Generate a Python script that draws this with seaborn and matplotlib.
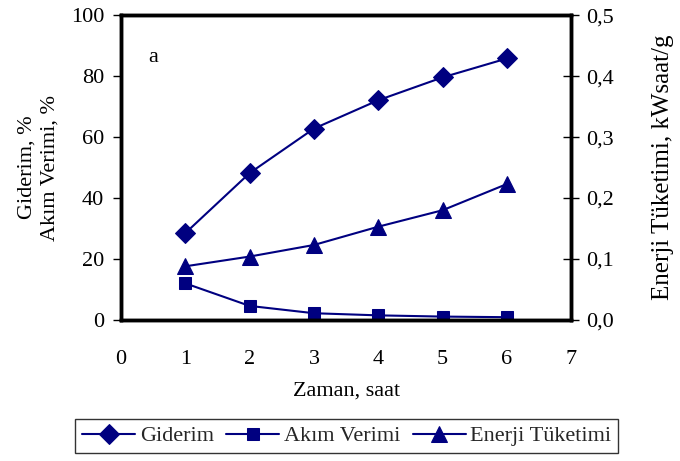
import matplotlib
matplotlib.use("Agg")
import matplotlib.pyplot as plt
from matplotlib.ticker import FuncFormatter
import seaborn as sns
import pandas as pd

# Electro-oxidation results over time
zaman = [1, 2, 3, 4, 5, 6]
giderim = [28.5, 48.2, 62.8, 72.1, 79.6, 85.8]
akim_verimi = [12.0, 4.6, 2.2, 1.5, 1.1, 0.9]
enerji_tuketimi = [0.088, 0.104, 0.123, 0.153, 0.180, 0.223]

x_ticks = [0, 1, 2, 3, 4, 5, 6, 7]
y_left_ticks = [0, 20, 40, 60, 80, 100]
y_right_ticks = [0.0, 0.1, 0.2, 0.3, 0.4, 0.5]

sns.set_theme(style="white")
plt.rcParams["font.family"] = ["Liberation Serif", "DejaVu Serif"]

navy = "#000080"
df = pd.DataFrame({"zaman": zaman, "giderim": giderim,
                   "akim": akim_verimi, "enerji": enerji_tuketimi})

fig = plt.figure(figsize=(6.8, 4.61), dpi=100)
ax = fig.add_axes([0.178, 0.306, 0.662, 0.661])
ax2 = ax.twinx()

sns.lineplot(data=df, x="zaman", y="giderim", ax=ax, color=navy, marker="D",
             markersize=10.5, markeredgecolor=navy, linewidth=1.5,
             label="Giderim", legend=False)
sns.lineplot(data=df, x="zaman", y="akim", ax=ax, color=navy, marker="s",
             markersize=8, markeredgecolor=navy, linewidth=1.5,
             label="Akım Verimi", legend=False)
sns.lineplot(data=df, x="zaman", y="enerji", ax=ax2, color=navy, marker="^",
             markersize=12, markeredgecolor=navy, linewidth=1.5,
             label="Enerji Tüketimi", legend=False)

ax.set_xlim(0, 7)
ax.set_ylim(0, 100)
ax2.set_ylim(0, 0.5)
ax.set_xticks(x_ticks)
ax.set_yticks(y_left_ticks)
ax2.set_yticks(y_right_ticks)
ax2.yaxis.set_major_formatter(FuncFormatter(lambda v, p: f"{v:.1f}".replace(".", ",")))

for a in (ax, ax2):
    for s in a.spines.values():
        s.set_color("black")
        s.set_linewidth(2.5)
    a.grid(False)

ax.tick_params(axis="y", direction="out", length=6, width=1, labelsize=16,
               colors="black", pad=6)
ax.tick_params(axis="x", direction="out", length=5, width=1, labelsize=16,
               colors="black", pad=17)
ax2.tick_params(axis="y", direction="inout", length=12, width=1, labelsize=16,
                colors="black", pad=4.5)

ax.set_xlabel("Zaman, saat", fontsize=16, color="black", labelpad=9)
ax.set_ylabel("Giderim, %\nAkım Verimi, %", fontsize=16, color="black",
              labelpad=8, linespacing=1.3)
ax2.set_ylabel("Enerji Tüketimi, kWsaat/g", fontsize=18, color="black",
               labelpad=28)

ax.text(0.50, 86.2, "a", fontsize=16, color="black", ha="center", va="center")

handles = ax.get_lines()[:2] + ax2.get_lines()[:1]
labels = ["Giderim", "Akım Verimi", "Enerji Tüketimi"]
leg = fig.legend(handles, labels, loc="center", bbox_to_anchor=(0.51, 0.054),
                 ncol=3, frameon=True, fancybox=False, fontsize=16,
                 handlelength=2.4, handletextpad=0.2, columnspacing=0.55,
                 borderpad=0.3, borderaxespad=0, edgecolor="black")
leg.get_frame().set_linewidth(1.0)

fig.savefig("out.png", dpi=100)
